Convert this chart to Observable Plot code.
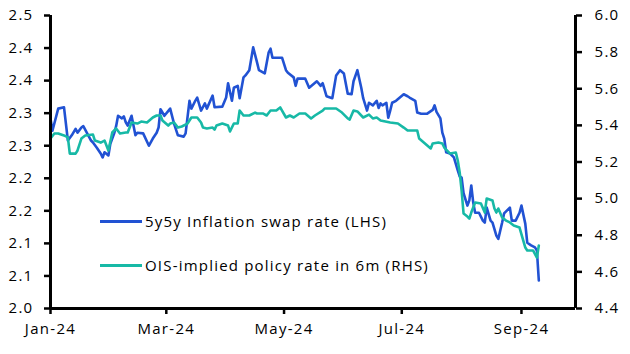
<!DOCTYPE html>
<html>
<head>
<meta charset="utf-8">
<script src="https://cdn.jsdelivr.net/npm/d3@7"></script>
<script src="https://cdn.jsdelivr.net/npm/@observablehq/plot@0.6"></script>
<style>
  html, body { margin: 0; padding: 0; background: #fff; }
  #wrap { position: relative; width: 630px; height: 354px; font-family: "Open Sans", sans-serif; }
  #wrap svg text { letter-spacing: 1.3px; }
  .leg { position: absolute; left: 100px; display: flex; align-items: center; font-size: 15px; color: #000; white-space: nowrap; letter-spacing: 1.2px; }
  .leg .sw { width: 42px; height: 3px; margin-right: 3px; }
</style>
</head>
<body>
<div id="wrap"></div>
<script>
// 5y5y inflation swap rate (LHS)
const swapDates = ["2024-01-01","2024-01-02","2024-01-05","2024-01-08","2024-01-10","2024-01-12","2024-01-14","2024-01-15","2024-01-17","2024-01-18","2024-01-20","2024-01-22","2024-01-23","2024-01-25","2024-01-27","2024-01-28","2024-01-29","2024-01-31","2024-02-01","2024-02-03","2024-02-04","2024-02-05","2024-02-07","2024-02-08","2024-02-09","2024-02-10","2024-02-12","2024-02-14","2024-02-15","2024-02-18","2024-02-21","2024-02-23","2024-02-25","2024-02-26","2024-02-27","2024-02-29","2024-03-03","2024-03-05","2024-03-07","2024-03-10","2024-03-11","2024-03-13","2024-03-14","2024-03-16","2024-03-17","2024-03-19","2024-03-21","2024-03-22","2024-03-25","2024-03-26","2024-03-30","2024-04-01","2024-04-02","2024-04-04","2024-04-05","2024-04-07","2024-04-08","2024-04-10","2024-04-11","2024-04-13","2024-04-15","2024-04-17","2024-04-18","2024-04-21","2024-04-23","2024-04-24","2024-04-25","2024-04-30","2024-05-02","2024-05-03","2024-05-06","2024-05-07","2024-05-08","2024-05-12","2024-05-14","2024-05-18","2024-05-20","2024-05-21","2024-05-23","2024-05-26","2024-05-28","2024-05-30","2024-06-01","2024-06-03","2024-06-05","2024-06-06","2024-06-08","2024-06-10","2024-06-11","2024-06-13","2024-06-14","2024-06-16","2024-06-18","2024-06-19","2024-06-20","2024-06-21","2024-06-23","2024-06-24","2024-06-25","2024-06-26","2024-06-28","2024-06-30","2024-07-02","2024-07-04","2024-07-05","2024-07-08","2024-07-09","2024-07-11","2024-07-14","2024-07-17","2024-07-18","2024-07-19","2024-07-21","2024-07-22","2024-07-23","2024-07-24","2024-07-26","2024-07-28","2024-07-30","2024-07-31","2024-08-01","2024-08-02","2024-08-04","2024-08-05","2024-08-06","2024-08-07","2024-08-08","2024-08-10","2024-08-12","2024-08-13","2024-08-14","2024-08-16","2024-08-17","2024-08-19","2024-08-20","2024-08-22","2024-08-23","2024-08-26","2024-08-27","2024-08-29","2024-08-31","2024-09-01","2024-09-03","2024-09-04","2024-09-06","2024-09-08","2024-09-09","2024-09-10"];
const swapValues = [2.292,2.273,2.307,2.309,2.258,2.266,2.276,2.270,2.278,2.280,2.269,2.258,2.255,2.247,2.238,2.232,2.240,2.235,2.253,2.269,2.280,2.296,2.292,2.295,2.286,2.281,2.296,2.266,2.270,2.269,2.250,2.261,2.270,2.278,2.306,2.296,2.307,2.284,2.266,2.264,2.269,2.319,2.307,2.319,2.324,2.304,2.315,2.307,2.327,2.309,2.310,2.324,2.346,2.319,2.339,2.342,2.323,2.355,2.358,2.366,2.401,2.378,2.366,2.361,2.393,2.399,2.385,2.385,2.366,2.362,2.355,2.342,2.353,2.353,2.339,2.349,2.342,2.346,2.326,2.323,2.358,2.366,2.361,2.330,2.329,2.349,2.366,2.339,2.323,2.304,2.316,2.312,2.319,2.308,2.315,2.312,2.316,2.293,2.304,2.316,2.319,2.324,2.329,2.326,2.324,2.319,2.301,2.299,2.299,2.305,2.312,2.302,2.292,2.270,2.261,2.240,2.238,2.232,2.212,2.203,2.201,2.177,2.158,2.166,2.189,2.163,2.147,2.147,2.135,2.132,2.155,2.135,2.132,2.112,2.107,2.132,2.146,2.155,2.135,2.135,2.147,2.158,2.130,2.101,2.097,2.094,2.089,2.043];

// OIS-implied policy rate in 6m (RHS)
const oisDates = ["2024-01-01","2024-01-03","2024-01-05","2024-01-08","2024-01-10","2024-01-11","2024-01-14","2024-01-15","2024-01-17","2024-01-19","2024-01-23","2024-01-24","2024-01-27","2024-01-29","2024-01-31","2024-02-02","2024-02-04","2024-02-06","2024-02-09","2024-02-10","2024-02-12","2024-02-15","2024-02-17","2024-02-20","2024-02-23","2024-02-25","2024-02-27","2024-02-28","2024-03-02","2024-03-03","2024-03-05","2024-03-07","2024-03-09","2024-03-12","2024-03-14","2024-03-17","2024-03-19","2024-03-20","2024-03-22","2024-03-25","2024-03-26","2024-03-27","2024-03-30","2024-04-02","2024-04-03","2024-04-05","2024-04-07","2024-04-08","2024-04-10","2024-04-13","2024-04-16","2024-04-17","2024-04-20","2024-04-22","2024-04-24","2024-04-27","2024-04-29","2024-05-02","2024-05-04","2024-05-06","2024-05-09","2024-05-12","2024-05-15","2024-05-17","2024-05-21","2024-05-22","2024-05-26","2024-05-28","2024-05-31","2024-06-03","2024-06-04","2024-06-06","2024-06-08","2024-06-11","2024-06-14","2024-06-16","2024-06-18","2024-06-20","2024-06-25","2024-06-29","2024-07-02","2024-07-04","2024-07-09","2024-07-10","2024-07-13","2024-07-16","2024-07-17","2024-07-20","2024-07-22","2024-07-23","2024-07-26","2024-07-29","2024-07-30","2024-07-31","2024-08-01","2024-08-02","2024-08-04","2024-08-05","2024-08-06","2024-08-08","2024-08-11","2024-08-13","2024-08-14","2024-08-17","2024-08-18","2024-08-19","2024-08-20","2024-08-22","2024-08-24","2024-08-26","2024-08-28","2024-08-31","2024-09-03","2024-09-04","2024-09-07","2024-09-09","2024-09-10"];
const oisValues = [5.328,5.356,5.356,5.345,5.334,5.246,5.246,5.263,5.328,5.345,5.350,5.317,5.306,5.317,5.263,5.361,5.383,5.356,5.361,5.361,5.416,5.410,5.421,5.416,5.443,5.454,5.454,5.427,5.399,5.410,5.416,5.388,5.394,5.410,5.443,5.443,5.416,5.388,5.383,5.388,5.377,5.399,5.410,5.399,5.367,5.410,5.410,5.481,5.454,5.454,5.470,5.465,5.465,5.454,5.481,5.481,5.498,5.443,5.454,5.443,5.465,5.465,5.438,5.454,5.481,5.492,5.492,5.492,5.470,5.438,5.432,5.481,5.476,5.443,5.459,5.438,5.443,5.427,5.416,5.410,5.388,5.372,5.372,5.328,5.301,5.274,5.301,5.306,5.301,5.279,5.246,5.252,5.208,5.143,5.044,4.919,4.902,4.891,4.924,4.979,4.973,4.924,5.001,4.990,4.946,4.924,4.946,4.897,4.880,4.870,4.853,4.842,4.733,4.717,4.717,4.678,4.744];

const leftTicks = [2.00,2.05,2.10,2.15,2.20,2.25,2.30,2.35,2.40,2.45];
const leftTickLabels = ["2.0","2.1","2.1","2.2","2.2","2.3","2.3","2.4","2.4","2.5"];
const rightTicks = [4.4,4.6,4.8,5.0,5.2,5.4,5.6,5.8,6.0];
const rightTickLabels = ["4.4","4.6","4.8","5.0","5.2","5.4","5.6","5.8","6.0"];
const xTicks = ["2024-01-01","2024-03-01","2024-05-01","2024-07-01","2024-09-01"];
const xDomain = ["2024-01-01","2024-09-29"];
const leftDomain = [2.0, 2.45];
const rightDomain = [4.4, 6.0];
const seriesNames = ["5y5y Inflation swap rate (LHS)", "OIS-implied policy rate in 6m (RHS)"];
const seriesColors = ["#2152d3", "#17b9a6"];

const toLeft = v => leftDomain[0] + (v - rightDomain[0]) * (leftDomain[1] - leftDomain[0]) / (rightDomain[1] - rightDomain[0]);
const parse = s => new Date(s + "T00:00:00Z");

const swap = swapDates.map((d, i) => ({date: parse(d), value: swapValues[i]}));
const ois = oisDates.map((d, i) => ({date: parse(d), value: toLeft(oisValues[i])}));

const font = "'Open Sans', sans-serif";
const chart = Plot.plot({
  width: 630,
  height: 354,
  marginLeft: 50,
  marginRight: 55,
  marginTop: 15,
  marginBottom: 46,
  style: {fontFamily: font, fontSize: "15px", color: "#000", background: "#fff", overflow: "visible"},
  x: {type: "utc", domain: xDomain.map(parse)},
  y: {domain: leftDomain},
  marks: [
    Plot.line(swap, {x: "date", y: "value", stroke: seriesColors[0], strokeWidth: 2.6, curve: "linear"}),
    Plot.line(ois, {x: "date", y: "value", stroke: seriesColors[1], strokeWidth: 2.6, curve: "linear"}),
    Plot.axisY(leftTicks, {anchor: "left", tickSize: 6, tickPadding: 11, strokeWidth: 2.5, stroke: "#000",
      tickFormat: d => leftTickLabels[leftTicks.findIndex(t => Math.abs(t - d) < 1e-9)], label: null, fontSize: 15, fill: "#000"}),
    Plot.axisY(rightTicks.map(toLeft), {anchor: "right", tickSize: 6, tickPadding: 13, strokeWidth: 2.5, stroke: "#000",
      tickFormat: d => rightTickLabels[rightTicks.findIndex(t => Math.abs(toLeft(t) - d) < 1e-9)], label: null, fontSize: 15, fill: "#000"}),
    Plot.axisX(xTicks.map(parse), {anchor: "bottom", tickSize: 6, tickPadding: 9, strokeWidth: 2.5, stroke: "#000",
      tickFormat: d3.utcFormat("%b-%y"), label: null, fontSize: 15, fill: "#000"}),
    Plot.ruleX([parse(xDomain[0]), parse(xDomain[1])], {stroke: "#000", strokeWidth: 3}),
    Plot.ruleY([leftDomain[0]], {stroke: "#000", strokeWidth: 3})
  ]
});
const wrap = document.getElementById("wrap");
wrap.appendChild(chart);

const legTops = [221, 265];
seriesNames.forEach((name, i) => {
  const el = document.createElement("div");
  el.className = "leg";
  el.style.top = (legTops[i] - 11) + "px";
  el.style.height = "22px";
  const sw = document.createElement("span");
  sw.className = "sw";
  sw.style.background = seriesColors[i];
  const tx = document.createElement("span");
  tx.textContent = name;
  el.appendChild(sw);
  el.appendChild(tx);
  wrap.appendChild(el);
});
</script>
</body>
</html>
